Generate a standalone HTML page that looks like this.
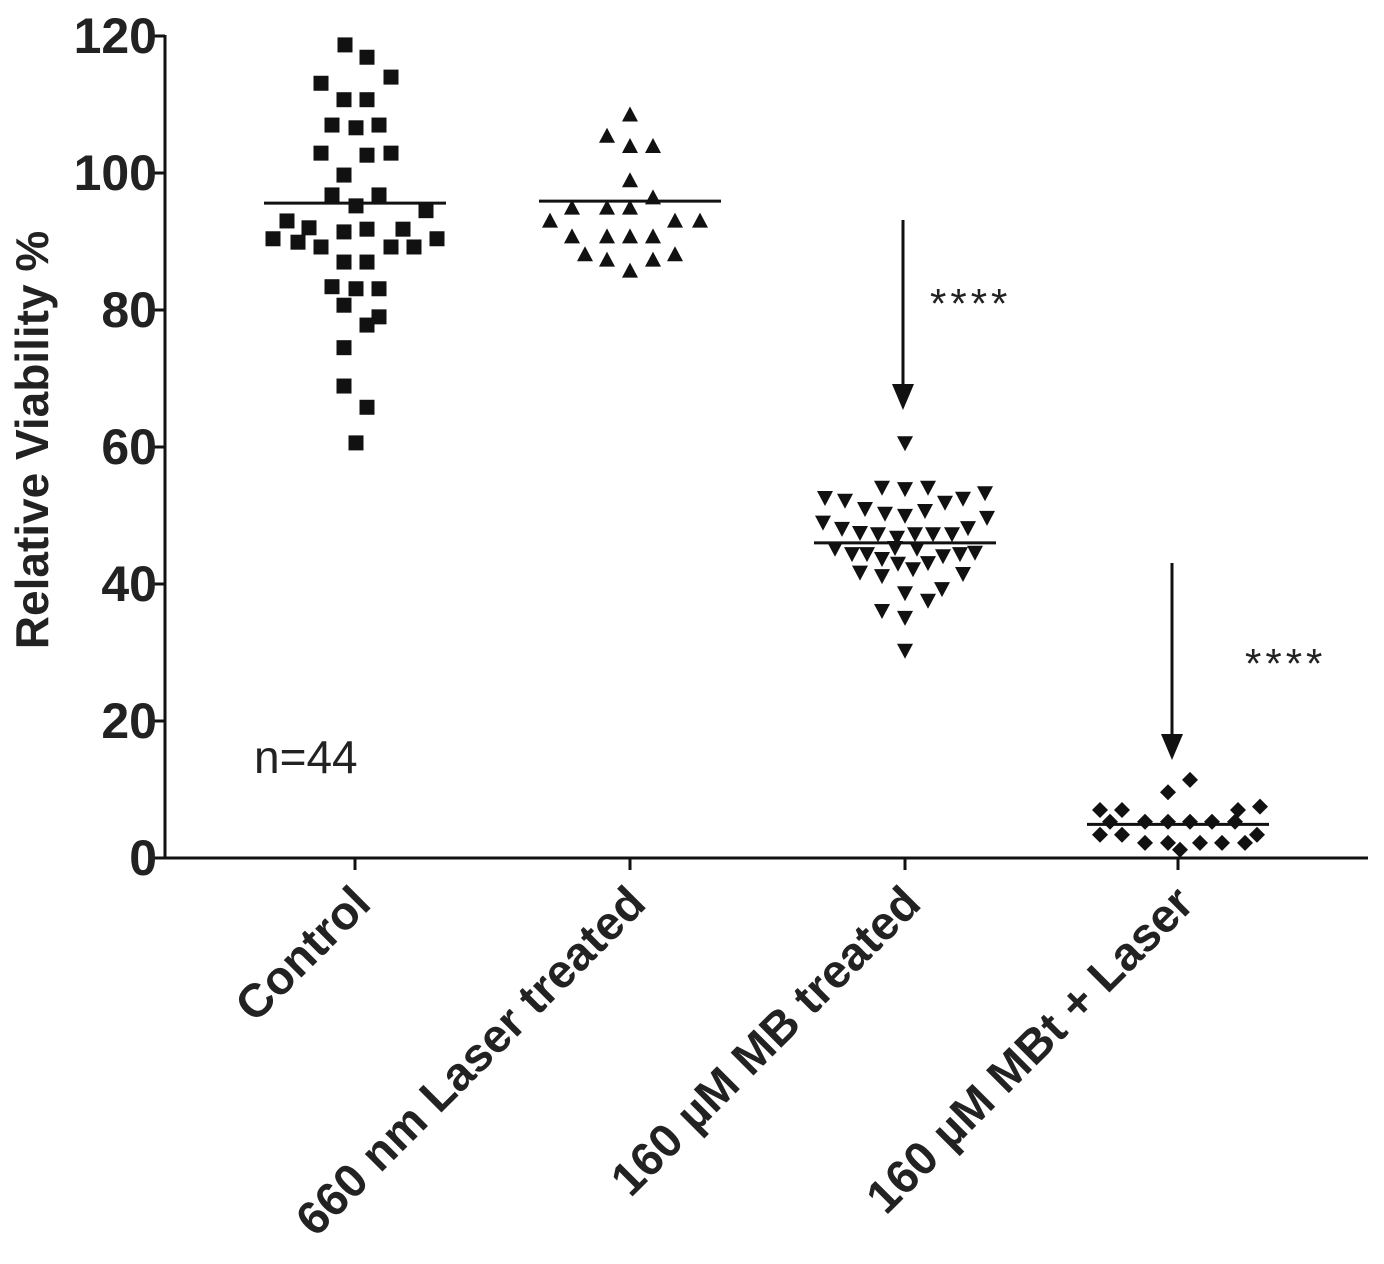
<!DOCTYPE html>
<html><head><meta charset="utf-8"><style>
html,body{margin:0;padding:0;background:#fff;}
svg{display:block;font-family:"Liberation Sans",Arial,sans-serif;}
</style></head><body>
<svg id="chart" width="1384" height="1264" viewBox="0 0 1384 1264" xmlns="http://www.w3.org/2000/svg">
<g id="axes"></g>
<g id="marks"></g>
<text x="254" y="773" font-size="46" fill="#222">n=44</text>
<text x="930" y="318" font-size="42" letter-spacing="4" fill="#222">****</text>
<text x="1245" y="678" font-size="42" letter-spacing="4" fill="#222">****</text>
<text transform="translate(48,440) rotate(-90)" text-anchor="middle" font-size="46" font-weight="bold" fill="#222">Relative  Viability %</text>
</svg>
<script>
const categories = ["Control","660 nm Laser treated","160 µM MB treated","160 µM MBt + Laser"];
const yTicks = [0,20,40,60,80,100,120];
const controlValues = [118.7,116.9,114.0,113.1,110.7,110.7,107.0,106.6,107.0,102.9,102.6,102.9,99.7,96.8,96.8,95.2,94.5,93.0,90.4,92.0,89.9,89.2,91.4,91.8,91.8,89.2,89.2,90.4,87.0,87.0,83.4,83.1,83.1,80.7,79.0,77.8,74.5,68.9,65.8,60.6];
const controlJitter = [-10,12,36,-34,-11,12,-23,1,24,-34,12,36,-11,-23,24,1,71,-68,-82,-46,-57,-34,-11,12,48,36,59,82,-11,12,-23,1,24,-11,24,12,-11,-11,12,1];
const laserValues = [108.4,105.3,103.8,103.8,98.8,96.3,94.8,94.8,94.8,92.9,92.9,92.9,90.6,90.6,90.6,90.6,88.0,87.2,87.2,88.0,85.6];
const laserJitter = [0,-23,0,23,0,23,-58,-23,0,-80,45,70,-58,-23,0,23,-45,-23,23,45,0];
const mbValues = [60.7,54.2,54.0,54.2,52.7,52.3,53.4,52.6,52.0,51.1,50.4,50.1,50.8,49.1,49.8,48.2,47.6,47.4,47.4,47.4,47.4,48.3,46.9,45.3,44.5,44.5,45.4,45.3,44.2,44.5,44.7,43.8,43.1,42.3,43.2,41.8,41.3,41.6,38.8,39.4,37.7,36.2,35.2,30.4];
const mbJitter = [0,-23,0,23,-80,-60,80,58,40,-40,-20,0,20,-82,82,-63,-45,-27,10,28,47,63,-8,-70,-53,-38,-10,12,38,55,70,-23,-7,8,23,-45,-23,58,0,37,23,-23,0];
const mbtValues = [11.4,9.6,7.0,7.0,7.0,7.5,5.3,5.3,5.3,5.3,5.3,5.3,3.4,3.4,3.4,2.2,2.2,2.2,2.2,2.2,1.2];
const mbtJitter = [12,-10,-78,-56,60,82,-68,-33,-10,12,34,57,-78,-56,79,-33,-10,22,44,67,2];
const means = [95.6,95.9,46.0,4.9];

const NS='http://www.w3.org/2000/svg';
const X0=165,X1=1368,Y0=858,YTOP=36;
const catX=[355,630,905,1178];
function yScale(v){return Y0-(v/120)*(Y0-YTOP);}
function xScale(i,j){return catX[i]+j;}
function mk(tag,attrs,parent){const e=document.createElementNS(NS,tag);for(const k in attrs)e.setAttribute(k,attrs[k]);parent.appendChild(e);return e;}
const axes=document.getElementById('axes'), marks=document.getElementById('marks');

let e=mk('line',{x1:X0,y1:YTOP-1,x2:X0,y2:Y0+1.5,stroke:'#111','stroke-width':3},axes);


e=mk('line',{x1:X0-1.5,y1:Y0,x2:X1,y2:Y0,stroke:'#111','stroke-width':3},axes);


yTicks.forEach(t=>{
  const y=yScale(t);
  let l=mk('line',{x1:X0-11,y1:y,x2:X0,y2:y,stroke:'#111','stroke-width':3},axes);
  
  
  let tx=mk('text',{x:X0-8,y:y+17,'text-anchor':'end','font-size':50,'font-weight':'bold',fill:'#222'},axes);
  tx.textContent=t;
  
  
});
categories.forEach((c,i)=>{
  const x=catX[i];
  let l=mk('line',{x1:x,y1:Y0,x2:x,y2:Y0+12,stroke:'#111','stroke-width':3},axes);
  
  
  let tx=mk('text',{transform:`translate(${x+18},${Y0+48}) rotate(-45)`,'text-anchor':'end','font-size':47,'font-weight':'bold',fill:'#222'},axes);
  tx.textContent=c;
  
  
});

function square(x,y){const s=15;return mk('rect',{x:x-s/2,y:y-s/2,width:s,height:s,fill:'#111'},marks);}
function triUp(x,y){return mk('polygon',{points:`${x},${y-9} ${x+8},${y+6} ${x-8},${y+6}`,fill:'#111'},marks);}
function triDown(x,y){return mk('polygon',{points:`${x-8},${y-6} ${x+8},${y-6} ${x},${y+9}`,fill:'#111'},marks);}
function diamond(x,y){return mk('polygon',{points:`${x},${y-8} ${x+8},${y} ${x},${y+8} ${x-8},${y}`,fill:'#111'},marks);}

const groups=[[controlValues,controlJitter,square,'control-point'],[laserValues,laserJitter,triUp,'laser-point'],[mbValues,mbJitter,triDown,'mb-point'],[mbtValues,mbtJitter,diamond,'mbt-laser-point']];
groups.forEach((g,i)=>{
  g[0].forEach((v,k)=>{
    const m=g[2](xScale(i,g[1][k]||0),yScale(v));
    
    
  });
  const ml=mk('line',{x1:catX[i]-91,x2:catX[i]+91,y1:yScale(means[i]),y2:yScale(means[i]),stroke:'#111','stroke-width':3},marks);
  
  
});

function arrow(x,y1,y2,name){
  const g=mk('g',{},axes);
  
  
  mk('line',{x1:x,y1:y1,x2:x,y2:y2-20,stroke:'#111','stroke-width':3},g);
  mk('polygon',{points:`${x-11},${y2-26} ${x+11},${y2-26} ${x},${y2}`,fill:'#111'},g);
}
arrow(903,220,410,'arrow-mb');
arrow(1172,563,760,'arrow-mbt-laser');
</script>
</body></html>
